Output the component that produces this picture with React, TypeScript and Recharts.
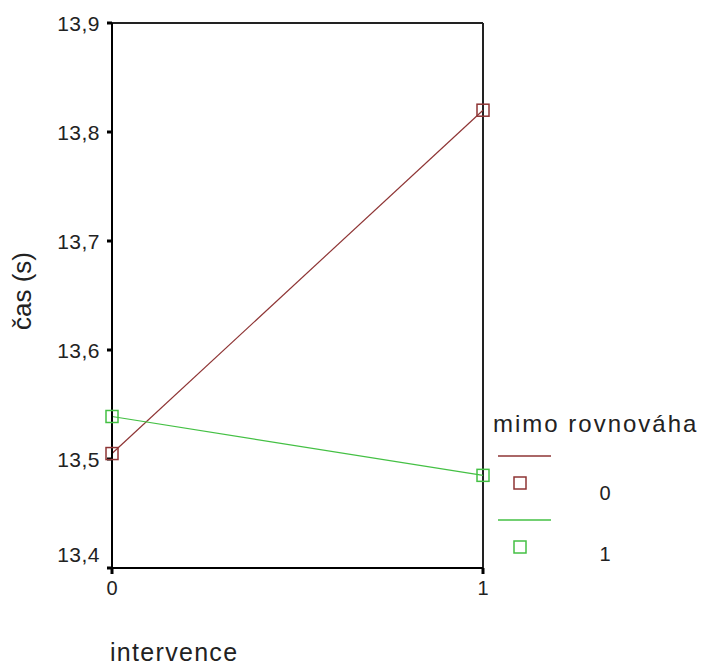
import { LineChart, Line, XAxis, YAxis, ReferenceLine, Legend } from 'recharts'

// intervence (x) categories and mean time per group of "mimo rovnováha"
const intervence = [0, 1]
const mimo0 = [13.505, 13.82]
const mimo1 = [13.539, 13.485]
const yTicks = [13.4, 13.5, 13.6, 13.7, 13.8, 13.9]
const seriesNames = ['0', '1']

const data = intervence.map((x, i) => ({ x, s0: mimo0[i], s1: mimo1[i] }))

const RED = '#8e3434'
const GREEN = '#44c044'
const FONT = '"Liberation Sans", Arial, sans-serif'
const TEXT = '#222222'

const squareDot = (color: string) => (props: any) => {
  const { cx, cy, index } = props
  if (cx == null || cy == null) return <g key={index} />
  return (
    <rect key={index} x={cx - 6} y={cy - 6} width={12} height={12}
      fill="none" stroke={color} strokeWidth={1.5} />
  )
}

const YTick = (props: any) => {
  const { x, y, payload } = props
  const v = payload.value as number
  const shift = Math.abs(v - 13.4) < 1e-6 ? -14 : 0
  return (
    <text x={x} y={y + 7.5 + shift} textAnchor="end" fontSize={21} letterSpacing={0.5}
      fill={TEXT} fontFamily={FONT}>
      {v.toFixed(1).replace('.', ',')}
    </text>
  )
}

const XTick = (props: any) => {
  const { x, y, payload } = props
  return (
    <text x={x} y={y + 19} textAnchor="middle" fontSize={20} fill={TEXT} fontFamily={FONT}>
      {String(payload.value)}
    </text>
  )
}

function LegendBox({ payload }: any) {
  const items = payload || []
  const labelY = [100, 161]
  return (
    <svg width={212} height={175} style={{ display: 'block', overflow: 'visible' }}>
      <text x={3} y={32} fontSize={24} letterSpacing={2} fill={TEXT} fontFamily={FONT}>
        mimo rovnováha
      </text>
      {items.map((p: any, i: number) => {
        const off = i * 64
        return (
          <g key={String(p.value)}>
            <line x1={8} x2={61} y1={56 + off} y2={56 + off} stroke={p.color} strokeWidth={1.5} />
            <rect x={24} y={77 + off} width={12} height={12} fill="none" stroke={p.color} strokeWidth={1.5} />
            <text x={115} y={labelY[i]} textAnchor="middle" fontSize={20} fill={TEXT} fontFamily={FONT}>
              {p.value}
            </text>
          </g>
        )
      })}
    </svg>
  )
}

export default function App() {
  return (
    <div style={{ position: 'absolute', left: 0, top: 0, width: 702, height: 669, background: '#fff' }}>
      <LineChart width={702} height={669} data={data}
        margin={{ top: 23, right: 219, bottom: 71, left: 0 }}>
        <XAxis dataKey="x" type="number" domain={[0, 1]} ticks={intervence}
          axisLine={{ stroke: '#000', strokeWidth: 2 }}
          tickLine={{ stroke: '#000', strokeWidth: 3 }} tickSize={6} tickMargin={2}
          height={30} tick={XTick}
          label={{
            content: () => (
              <text x={110} y={661} fontSize={25} letterSpacing={1.3} fill={TEXT} fontFamily={FONT}>
                intervence
              </text>
            ),
          }} />
        <YAxis type="number" domain={[13.4, 13.9]} ticks={yTicks} width={112}
          axisLine={{ stroke: '#000', strokeWidth: 2 }}
          tickLine={{ stroke: '#000', strokeWidth: 3 }} tickSize={5} tickMargin={7}
          tick={YTick}
          label={{
            content: () => (
              <text x={31} y={291} transform="rotate(-90 31 291)" textAnchor="middle"
                fontSize={26} fill={TEXT} fontFamily={FONT}>
                čas (s)
              </text>
            ),
          }} />
        <ReferenceLine x={1} stroke="#222" strokeWidth={2} />
        <ReferenceLine y={13.9} stroke="#222" strokeWidth={2} />
        <Line dataKey="s0" name={seriesNames[0]} stroke={RED} strokeWidth={1.2}
          dot={squareDot(RED)} activeDot={false} isAnimationActive={false} />
        <Line dataKey="s1" name={seriesNames[1]} stroke={GREEN} strokeWidth={1.2}
          dot={squareDot(GREEN)} activeDot={false} isAnimationActive={false} />
        <Legend layout="vertical" align="center" verticalAlign="middle" content={LegendBox}
          wrapperStyle={{ left: 490, top: 400, width: 212, height: 175 }} />
      </LineChart>
    </div>
  )
}
